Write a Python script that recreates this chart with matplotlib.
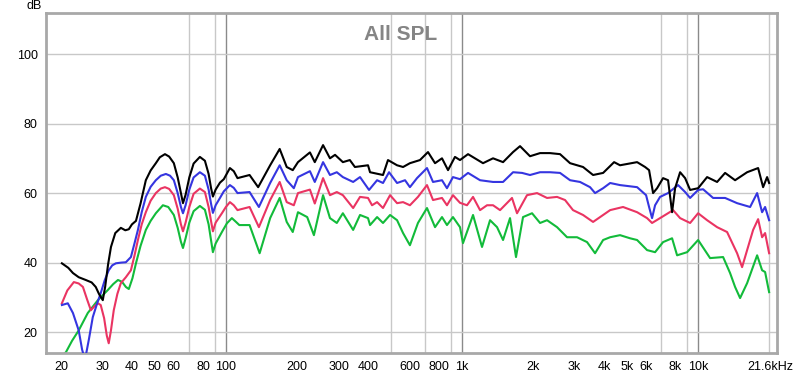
import numpy as np
import matplotlib
matplotlib.use('Agg')
from matplotlib import pyplot as plt
from matplotlib.ticker import FixedLocator, FixedFormatter, LogLocator, NullFormatter
from matplotlib.transforms import ScaledTranslation

plt.rcParams['font.family'] = ['Liberation Sans', 'DejaVu Sans']

# frequencies (Hz) and SPL (dB)
freq_black = [20.2, 21.5, 22.5, 23.8, 25.5, 27, 28.1, 29, 30.1, 30.8, 31.7, 32.6, 34, 35.9, 37.5, 38.8,
              40, 41.6, 43.5, 45.8, 48, 50.5, 52.5, 55.2, 57.5, 60.2, 62.5, 64.5, 65.8, 67.5, 70, 73,
              77.6, 81.5, 84.5, 86.5, 88.1, 90.5, 94.4, 98, 104, 108, 112, 126, 137, 154, 169, 181,
              192, 202, 227, 238, 258, 276, 290, 313, 335, 352, 400, 408, 463, 486, 531, 563, 602, 664,
              718, 769, 823, 873, 934, 981, 1061, 1228, 1354, 1493, 1646, 1762, 1942, 2142, 2360, 2603,
              2870, 3258, 3592, 3962, 4410, 4673, 5519, 5967, 6203, 6450, 6707, 7110, 7465, 7763, 7995,
              8394, 8816, 9256, 10008, 10924, 12042, 13020, 14352, 16140, 17968, 18862, 19612, 20000]
spl_black = [39.8, 38.5, 37.0, 35.8, 35.0, 34.3, 33.0, 31.0, 29.2, 33.0, 39.5, 44.5, 48.5, 50.0, 49.3,
             49.6, 51.0, 52.0, 57.0, 63.7, 66.5, 68.6, 70.3, 71.2, 70.5, 68.6, 64.5, 60.0, 57.1, 59.5,
             64.5, 68.5, 70.4, 69.3, 65.5, 61.5, 59.0, 61.0, 63.0, 64.0, 67.2, 66.3, 64.3, 65.2, 61.7,
             68.0, 72.7, 67.5, 66.6, 68.9, 71.7, 68.9, 73.8, 70.0, 71.0, 68.9, 69.5, 67.5, 68.0, 66.0,
             65.2, 69.5, 68.0, 67.5, 68.6, 69.5, 71.8, 68.6, 70.0, 66.6, 70.4, 69.5, 71.2, 68.6, 70.0,
             68.9, 71.8, 73.5, 70.6, 71.5, 71.5, 71.2, 68.6, 67.5, 65.2, 65.8, 68.9, 68.0, 68.9, 67.5,
             66.6, 60.0, 61.4, 64.3, 63.7, 54.5, 61.4, 66.0, 64.3, 60.9, 61.4, 64.6, 63.2, 65.8, 63.7,
             66.0, 67.2, 61.7, 64.6, 62.9]

freq_blue = [20.2, 21.4, 22.5, 23.8, 24.6, 25.3, 26.3, 27.3, 28.4, 29.5, 30.7, 31.9, 33, 34.2, 36, 37.7,
             39.6, 41, 42.4, 44, 45.8, 48, 50.5, 53, 55.7, 58, 60.2, 62.5, 64.5, 65.8, 67.5, 70, 73,
             77.6, 81.5, 84.5, 86.5, 88.1, 90.5, 94.4, 98, 104, 108, 112, 126, 138, 154, 169, 181, 194,
             202, 227, 238, 258, 276, 295, 313, 346, 370, 404, 437, 463, 491, 531, 574, 602, 645, 711,
             754, 823, 864, 916, 981, 1061, 1193, 1354, 1493, 1646, 1797, 1942, 2142, 2360, 2603, 2870,
             3164, 3488, 3663, 3962, 4243, 4673, 5519, 6024, 6203, 6386, 6577, 6904, 7465, 8232, 8816,
             9256, 10008, 10506, 11582, 13020, 14636, 16618, 17794, 18678, 19232, 20000]
spl_blue = [27.8, 28.3, 25.5, 20.5, 15.0, 12.0, 18.0, 24.3, 28.0, 31.2, 35.0, 37.8, 39.2, 39.8, 40.0,
            40.1, 41.6, 45.5, 49.4, 54.5, 58.9, 61.8, 63.7, 65.0, 65.5, 65.0, 63.7, 60.0, 56.0, 54.2,
            56.5, 61.0, 64.5, 66.0, 65.0, 61.0, 57.0, 54.3, 56.5, 58.6, 60.5, 62.3, 61.5, 60.0, 60.3,
            56.0, 62.9, 68.0, 63.7, 61.4, 64.6, 66.3, 63.2, 68.9, 65.2, 66.0, 64.6, 63.2, 64.6, 60.9,
            63.7, 62.9, 66.0, 62.9, 63.7, 61.7, 64.3, 67.2, 63.2, 63.7, 61.4, 64.6, 64.0, 65.8, 63.7,
            63.2, 63.2, 66.0, 65.8, 65.2, 66.0, 66.0, 65.8, 63.7, 63.2, 61.7, 60.0, 61.4, 62.9, 62.3,
            61.7, 59.4, 56.0, 52.8, 56.5, 58.9, 60.0, 62.3, 60.3, 58.6, 60.9, 61.1, 58.6, 58.6, 57.1,
            56.0, 60.0, 54.5, 56.0, 52.2]

freq_red = [20.2, 21.3, 22.7, 23.8, 24.8, 25.8, 26.8, 27.8, 28.7, 29.5, 30.5, 31.3, 31.9, 32.6, 33.5,
            34.7, 35.9, 37.7, 39.6, 41, 42.4, 44, 45.8, 48, 50.5, 53, 55.2, 57.5, 60.2, 62.5, 64.5,
            65.8, 67.5, 70, 73, 77.6, 81.5, 84.5, 86.5, 88.1, 90.5, 96.2, 100, 104, 108, 112, 126, 138,
            154, 169, 181, 194, 202, 227, 238, 258, 276, 295, 313, 346, 370, 400, 416, 437, 463, 496,
            531, 563, 602, 651, 711, 754, 823, 864, 916, 981, 1050, 1114, 1193, 1277, 1354, 1450, 1629,
            1711, 1886, 2080, 2293, 2528, 2733, 2954, 3258, 3592, 3962, 4243, 4812, 5519, 6082, 6386,
            6904, 7840, 8394, 9256, 10008, 10924, 12042, 13274, 14636, 15368, 16140, 17112, 17968,
            18678, 19232, 20000]
spl_red = [28.3, 32.0, 34.4, 34.0, 33.0, 29.5, 26.3, 27.5, 28.3, 27.8, 24.0, 19.0, 16.8, 20.5, 26.3,
           31.0, 34.1, 35.8, 37.8, 42.0, 46.5, 51.0, 54.5, 57.8, 60.0, 61.3, 61.7, 61.2, 59.4, 55.5,
           51.0, 49.0, 51.5, 56.0, 59.8, 61.3, 60.3, 56.0, 52.0, 49.0, 51.5, 54.2, 56.0, 57.4, 56.5,
           55.1, 56.0, 50.2, 58.0, 63.2, 57.4, 56.5, 60.0, 61.0, 57.0, 64.3, 59.4, 60.3, 59.4, 55.7,
           58.9, 58.6, 56.5, 57.4, 55.7, 59.4, 57.1, 57.4, 56.5, 58.9, 62.3, 58.0, 58.6, 56.5, 59.4,
           57.2, 56.5, 58.9, 55.1, 56.5, 56.5, 55.1, 58.6, 54.2, 59.4, 60.0, 58.6, 58.9, 58.0, 55.1,
           53.7, 51.7, 53.7, 55.1, 56.0, 54.5, 52.8, 51.4, 52.8, 55.1, 52.8, 51.4, 54.2, 52.2, 50.2,
           48.8, 42.7, 38.7, 43.6, 49.4, 52.5, 47.3, 48.5, 42.7]

freq_green = [20.0, 21.0, 22.3, 23.8, 26.0, 28.7, 31.6, 33.3, 34.9, 36.3, 37.7, 38.8, 40.2, 41.6, 43.5,
              45.8, 48, 50.5, 54.1, 57, 60.2, 62.5, 64.5, 65.8, 67.5, 70, 73, 77.6, 81.5, 84.5, 86.5,
              88.1, 90.5, 96.2, 101, 106, 110, 114, 126, 139, 154, 169, 181, 192, 202, 221, 236, 258,
              276, 295, 313, 346, 370, 400, 408, 437, 463, 496, 531, 563, 602, 651, 711, 769, 823, 864,
              916, 981, 1010, 1114, 1216, 1315, 1408, 1493, 1598, 1694, 1814, 1981, 2142, 2293, 2528,
              2787, 3072, 3387, 3663, 3962, 4243, 4673, 5152, 5519, 6082, 6577, 7110, 7763, 8152, 8988,
              10008, 11247, 12768, 13668, 14352, 15070, 16140, 17794, 18678, 19232, 20000]
spl_green = [13.0, 14.2, 17.5, 20.5, 25.5, 29.2, 32.1, 33.8, 35.0, 34.5, 33.0, 32.4, 35.5, 39.8, 44.8,
             49.4, 52.0, 54.2, 56.5, 56.0, 53.7, 50.0, 46.0, 44.2, 47.0, 51.5, 54.8, 56.3, 55.2, 51.0,
             46.5, 43.0, 45.5, 48.8, 51.3, 52.8, 51.8, 50.8, 50.8, 42.7, 52.8, 58.6, 51.7, 48.8, 54.5,
             53.1, 47.9, 59.4, 52.8, 51.4, 54.2, 49.4, 53.7, 52.8, 50.8, 53.1, 51.4, 53.7, 52.2, 48.5,
             45.0, 51.4, 55.7, 50.2, 53.1, 50.8, 53.1, 50.2, 45.6, 53.7, 44.5, 52.2, 50.2, 46.5, 52.8,
             41.6, 53.1, 54.2, 51.4, 52.2, 50.2, 47.3, 47.3, 45.9, 42.7, 46.5, 47.3, 47.9, 47.0, 46.5,
             43.6, 43.0, 45.9, 47.0, 42.1, 43.0, 46.5, 41.3, 41.6, 37.0, 33.0, 29.8, 34.1, 42.1, 37.8,
             37.3, 31.5]

tick_freqs = [20, 30, 40, 50, 60, 80, 100, 200, 300, 400, 600, 800, 1000, 2000, 3000, 4000, 5000,
              6000, 8000, 10000, 21600]
tick_labels = ['20', '30', '40', '50', '60', '80', '100', '200', '300', '400', '600', '800', '1k',
               '2k', '3k', '4k', '5k', '6k', '8k', '10k', '21.6kHz']
db_ticks = [20, 40, 60, 80, 100]

fig = plt.figure(figsize=(8, 3.74), dpi=100)
ax = fig.add_axes([46 / 800, 21 / 374, 731 / 800, 340 / 374])

ax.plot(freq_black, spl_black, color='black', lw=1.5, zorder=4)
ax.plot(freq_blue, spl_blue, color='#3535e0', lw=1.5, zorder=3)
ax.plot(freq_red, spl_red, color='#ea3462', lw=1.5, zorder=2)
ax.plot(freq_green, spl_green, color='#12bb3a', lw=1.5, zorder=1)

ax.set_xscale('log')
ax.set_xlim(17.3, 21600)
ax.set_ylim(14.0, 111.8)

ax.xaxis.set_major_locator(FixedLocator(tick_freqs))
ax.xaxis.set_major_formatter(FixedFormatter(tick_labels))
ax.xaxis.set_minor_locator(LogLocator(base=10, subs=np.arange(1, 10), numticks=50))
ax.xaxis.set_minor_formatter(NullFormatter())
ax.set_yticks(db_ticks)

ax.grid(False)
ax.grid(which='minor', axis='x', color='#c8c8c8', lw=1)
ax.grid(which='major', axis='y', color='#c8c8c8', lw=1)
for f in [100, 1000, 10000]:
    ax.axvline(f, color='#8a8a8a', lw=1, zorder=0.5)
ax.set_axisbelow(True)

ax.tick_params(which='both', length=0, labelsize=9, colors='black')
ax.tick_params(axis='x', pad=6)
ax.tick_params(axis='y', pad=6)
labels = ax.get_xticklabels()
labels[-1].set_transform(labels[-1].get_transform() + ScaledTranslation(-7 / 100, 0, fig.dpi_scale_trans))

for s in ax.spines.values():
    s.set_color('#a8a8a8')
    s.set_linewidth(2)

ax.text(0.485, 0.965, 'All SPL', transform=ax.transAxes, ha='center', va='top',
        fontsize=15, fontweight='bold', color='#858585')
fig.text(42 / 800, 1.0, 'dB', ha='right', va='top', fontsize=9)

fig.savefig('out.png', dpi=100)
